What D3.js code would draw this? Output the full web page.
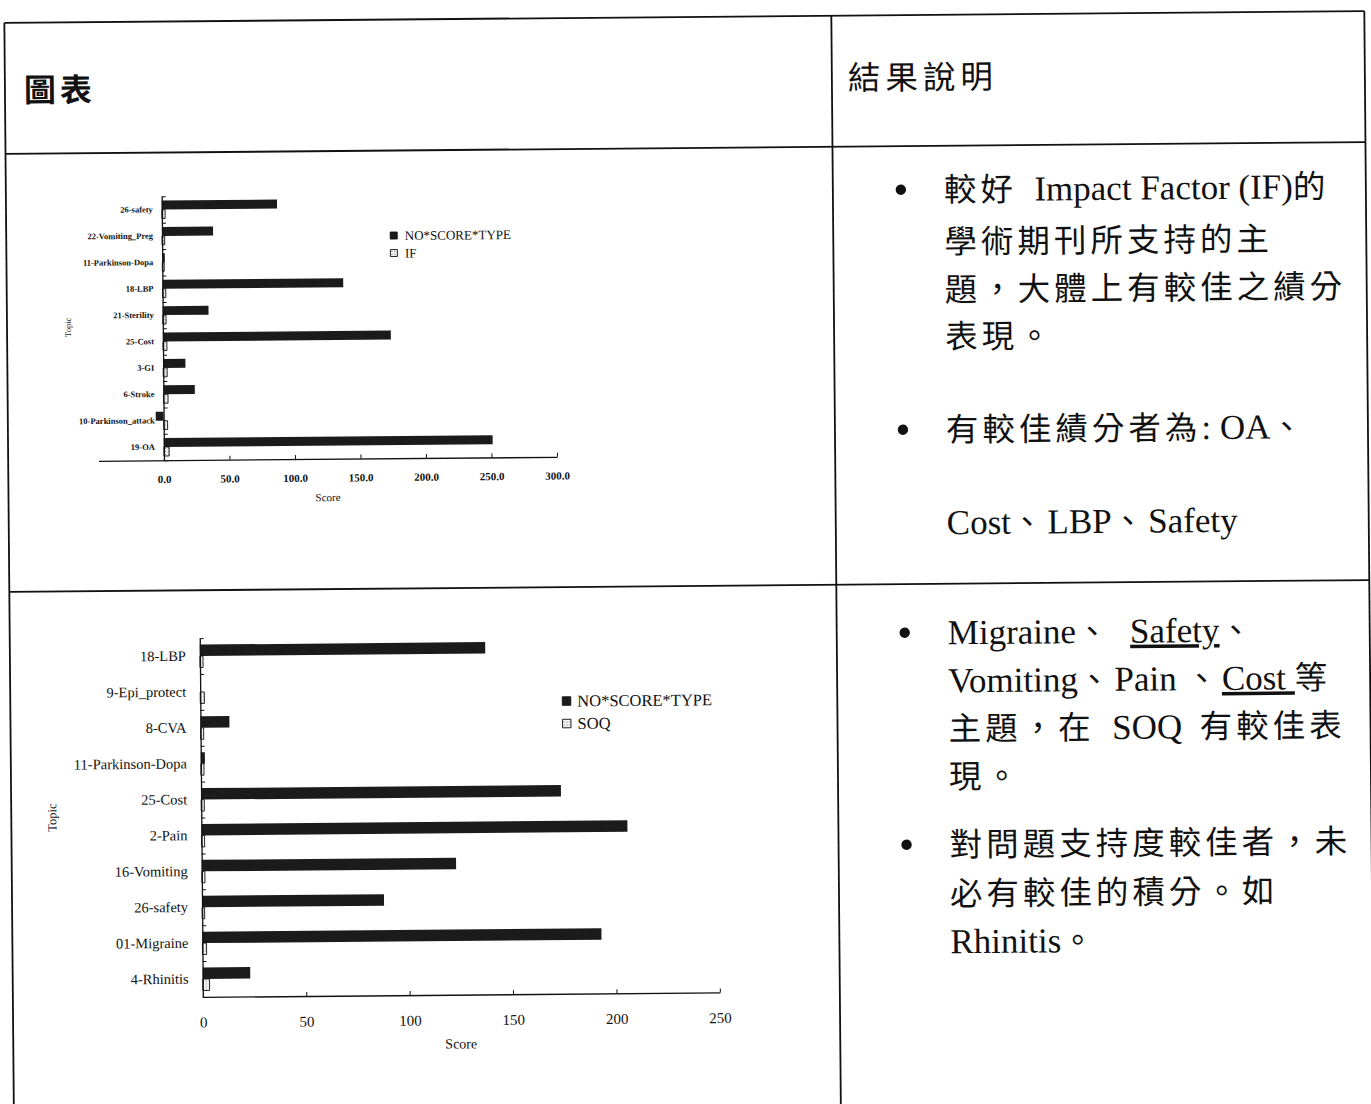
<!DOCTYPE html>
<html>
<head>
<meta charset="utf-8">
<script src="https://cdn.jsdelivr.net/npm/d3@7"></script>
<style>
  html, body { margin: 0; padding: 0; background: #fff; }
  svg { display: block; }
</style>
</head>
<body>
<svg id="page" width="1371" height="1104"></svg>
<script>
// ---- Chart 1: NO*SCORE*TYPE vs. Impact Factor support, by topic ----
const ifTopics = ["26-safety", "22-Vomiting_Preg", "11-Parkinson-Dopa", "18-LBP", "21-Sterility",
                  "25-Cost", "3-GI", "6-Stroke", "10-Parkinson_attack", "19-OA"];
const ifScore  = [88, 39, 2, 138, 35, 174, 17, 24, -6, 251];
const ifValue  = [2.5, 2, 1.5, 2.5, 2.5, 3, 3, 3.5, 3, 4];
const ifTicks  = [0, 50, 100, 150, 200, 250, 300];
const ifSeries = ["NO*SCORE*TYPE", "IF"];

// ---- Chart 2: NO*SCORE*TYPE vs. SOQ support, by topic ----
const soqTopics = ["18-LBP", "9-Epi_protect", "8-CVA", "11-Parkinson-Dopa", "25-Cost",
                   "2-Pain", "16-Vomiting", "26-safety", "01-Migraine", "4-Rhinitis"];
const soqScore  = [138, 0, 14, 2, 174, 206, 123, 88, 193, 23];
const soqValue  = [1.5, 2, 1.5, 1.5, 1.5, 1.5, 1.5, 1.2, 2, 3.3];
const soqTicks  = [0, 50, 100, 150, 200, 250];
const soqSeries = ["NO*SCORE*TYPE", "SOQ"];

const SERIF = "'Liberation Serif', 'Times New Roman', serif";
const CJK = "'Noto Sans CJK TC', 'Noto Sans CJK SC', sans-serif";
const INK = "#111";

const svg = d3.select("#page");
const defs = svg.append("defs");

// light dotted fill used by the secondary series
const dots = defs.append("pattern").attr("id", "dots")
  .attr("width", 3).attr("height", 3).attr("patternUnits", "userSpaceOnUse");
dots.append("rect").attr("width", 3).attr("height", 3).attr("fill", "#f0f0f0");
dots.append("rect").attr("x", 1).attr("y", 1).attr("width", 1).attr("height", 1).attr("fill", "#888");

// the printed page sits very slightly tilted
const page = svg.append("g").attr("transform", "rotate(-0.5,685.5,552)");

// ---- table frame ----
const frame = page.append("g").attr("stroke", INK).attr("stroke-width", 1.8).attr("fill", "none");
const L = 9, M = 836, R = 1369, T = 17, H = 148, MID = 586, B = 1111;
[[L, T, R, T], [L, H, R, H], [L, MID, R, MID], [L, B, R, B],
 [L, T, L, B], [M, T, M, B], [R, T, R, B]].forEach(([x1, y1, x2, y2]) =>
  frame.append("line").attr("x1", x1).attr("y1", y1).attr("x2", x2).attr("y2", y2));

// header cells
page.append("text").attr("x", 28).attr("y", 96)
  .attr("font-family", CJK).attr("font-size", 32).attr("font-weight", 700)
  .attr("letter-spacing", 4).attr("fill", INK).text("圖表");
page.append("text").attr("x", 852).attr("y", 91)
  .attr("font-family", CJK).attr("font-size", 32.5)
  .attr("letter-spacing", 5).attr("fill", INK).text("結果說明");

// ---- grouped horizontal bar chart ----
function drawBars(g, o) {
  const x = d3.scaleLinear().domain(o.xDomain).range(o.xRange);
  const y = d3.scaleBand().domain(o.topics).range(o.yRange)
    .paddingInner(o.padInner).paddingOuter(o.padOuter);
  const sub = d3.scaleBand().domain(o.series).range([0, y.bandwidth()]);
  const rows = o.topics.map((t, i) => ({ topic: t, values: [o.primary[i], o.secondary[i]] }));

  const groups = g.append("g").selectAll("g").data(rows).join("g")
    .attr("transform", d => `translate(0,${y(d.topic)})`);
  groups.selectAll("rect")
    .data(d => d.values.map((v, k) => ({ v, k })))
    .join("rect")
    .attr("x", d => x(Math.min(0, d.v)))
    .attr("y", d => sub(o.series[d.k]))
    .attr("width", d => Math.abs(x(d.v) - x(0)))
    .attr("height", sub.bandwidth())
    .attr("fill", d => d.k === 0 ? "#1b1b1b" : "url(#dots)")
    .attr("stroke", d => d.k === 0 ? "none" : INK)
    .attr("stroke-width", 0.9);

  // value axis: ticks point up into the plot
  const xAxis = g.append("g").attr("transform", `translate(0,${o.yRange[1]})`)
    .call(d3.axisBottom(x).tickValues(o.xTicks).tickFormat(o.fmt)
      .tickSizeInner(-4).tickSizeOuter(0).tickPadding(o.tickPad));
  xAxis.attr("color", INK);
  xAxis.select(".domain").attr("stroke-width", 1.3);
  xAxis.selectAll("text").attr("font-family", SERIF).attr("font-size", o.tickFont)
    .attr("font-weight", o.tickWeight);

  // category axis: line with ticks on band boundaries
  const idx = d3.scaleLinear().domain([0, o.topics.length]).range(o.yRange);
  const yLine = g.append("g").attr("transform", `translate(${x(0)},0)`)
    .call(d3.axisLeft(idx).tickValues(d3.range(o.topics.length + 1))
      .tickSizeInner(-4).tickSizeOuter(0).tickFormat(""));
  yLine.attr("color", INK);
  yLine.select(".domain").attr("stroke-width", 1.3);

  // category labels at band centres
  const yLab = g.append("g").attr("transform", `translate(${x(0)},0)`)
    .call(d3.axisLeft(y).tickSize(0).tickPadding(o.labelPad));
  yLab.select(".domain").remove();
  yLab.attr("color", INK);
  yLab.selectAll("text").attr("font-family", SERIF).attr("font-size", o.labelFont)
    .attr("font-weight", o.labelWeight);

  // axis titles
  g.append("text").attr("x", o.scorePos[0]).attr("y", o.scorePos[1])
    .attr("text-anchor", "middle").attr("dominant-baseline", "central")
    .attr("font-family", SERIF).attr("font-size", o.titleFont).attr("fill", INK).text("Score");
  g.append("text")
    .attr("transform", `translate(${o.topicPos[0]},${o.topicPos[1]}) rotate(-90)`)
    .attr("text-anchor", "middle").attr("dominant-baseline", "central")
    .attr("font-family", SERIF).attr("font-size", o.topicFont).attr("fill", INK).text("Topic");

  // legend
  const lg = g.append("g").attr("transform", `translate(${o.legend[0]},${o.legend[1]})`);
  o.series.forEach((name, k) => {
    const row = lg.append("g").attr("transform", `translate(0,${k * o.legendGap})`);
    row.append("rect").attr("x", 0).attr("y", -o.sw / 2).attr("width", o.sw).attr("height", o.sw)
      .attr("fill", k === 0 ? "#1b1b1b" : "url(#dots)").attr("stroke", INK).attr("stroke-width", 0.9);
    row.append("text").attr("x", o.sw + o.legendTextGap).attr("y", 0)
      .attr("dominant-baseline", "central")
      .attr("font-family", SERIF).attr("font-size", o.legendFont).attr("fill", INK).text(name);
  });
}

drawBars(page.append("g"), {
  topics: ifTopics, primary: ifScore, secondary: ifValue, series: ifSeries,
  xDomain: [-50, 300], xRange: [99.3, 557.8], xTicks: ifTicks, fmt: d3.format(".1f"),
  yRange: [191.8, 455.7], padInner: 0.32, padOuter: 0.16,
  tickPad: 15, tickFont: 11, tickWeight: 700,
  labelPad: 9, labelFont: 8.5, labelWeight: 700,
  scorePos: [328.5, 494], titleFont: 11,
  topicPos: [70, 322], topicFont: 8.5,
  legend: [393, 233], legendGap: 17.5, sw: 7, legendTextGap: 7.5, legendFont: 13
});

drawBars(page.append("g"), {
  topics: soqTopics, primary: soqScore, secondary: soqValue, series: soqSeries,
  xDomain: [0, 250], xRange: [199, 716], xTicks: soqTicks, fmt: d3.format("d"),
  yRange: [633.9, 992.7], padInner: 0.36, padOuter: 0.18,
  tickPad: 20, tickFont: 15, tickWeight: 400,
  labelPad: 14, labelFont: 14.5, labelWeight: 400,
  scorePos: [457, 1042], titleFont: 14,
  topicPos: [50, 812], topicFont: 12.5,
  legend: [561, 700], legendGap: 22.5, sw: 8.5, legendTextGap: 6.5, legendFont: 16.5
});

// ---- result notes (right column) ----
const notes = [
  { y: 191.6, bullet: true, parts: [["較好", "c"], ["  Impact Factor (IF)", "l"], ["的", "c"]] },
  { y: 243.6, parts: [["學術期刊所支持的主", "c"]] },
  { y: 291.6, parts: [["題，大體上有較佳之績分", "c"]] },
  { y: 338.6, parts: [["表現。", "c"]] },
  { y: 431.6, bullet: true, parts: [["有較佳績分者為", "c"], [": OA", "l"], ["、", "c"]] },
  { y: 524.6, parts: [["Cost", "l"], ["、", "c"], ["LBP", "l"], ["、", "c"], ["Safety", "l"]] },
  { y: 634.6, bullet: true, parts: [["Migraine", "l"], ["、", "c"], ["  ", "l"], ["Safety", "u"], ["、", "c"]] },
  { y: 682.6, parts: [["Vomiting", "l"], ["、", "c"], ["Pain ", "l"], ["、", "c"], ["Cost ", "u"], ["等", "c"]] },
  { y: 730.6, parts: [["主題，在", "c"], ["  SOQ  ", "l"], ["有較佳表", "c"]] },
  { y: 778.6, parts: [["現。", "c"]] },
  { y: 846.6, bullet: true, parts: [["對問題支持度較佳者，未", "c"]] },
  { y: 895.6, parts: [["必有較佳的積分。如", "c"]] },
  { y: 943.6, parts: [["Rhinitis", "l"], ["。", "c"]] }
];

const notesG = page.append("g").attr("fill", INK);
notes.forEach(line => {
  if (line.bullet) {
    notesG.append("circle").attr("cx", 904).attr("cy", line.y).attr("r", 5.2);
  }
  const t = notesG.append("text").attr("x", 947).attr("y", line.y + 12)
    .attr("xml:space", "preserve").style("white-space", "pre");
  line.parts.forEach(([s, kind]) => {
    const span = t.append("tspan").text(s);
    if (kind === "c") {
      span.attr("font-family", CJK).attr("font-size", 32.5).attr("letter-spacing", 4);
    } else {
      span.attr("font-family", SERIF).attr("font-size", 35);
      if (kind === "u") span.style("text-decoration", "underline");
    }
  });
});
</script>
</body>
</html>
